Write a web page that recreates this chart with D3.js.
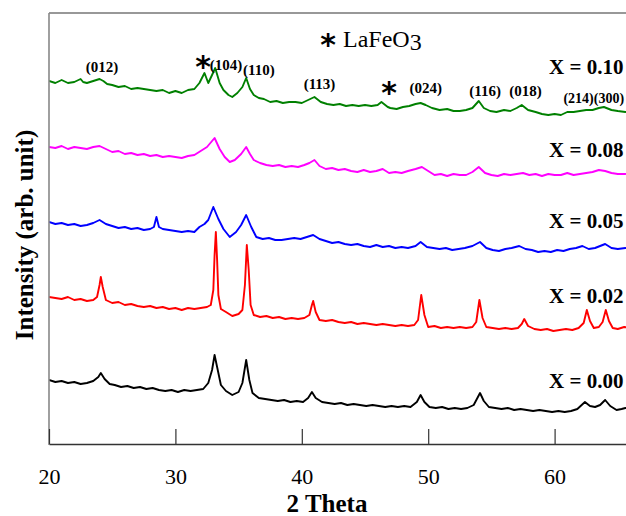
<!DOCTYPE html>
<html>
<head>
<meta charset="utf-8">
<script src="https://cdn.jsdelivr.net/npm/d3@7"></script>
<style>
  body { margin: 0; background: #fff; }
  svg { display: block; }
</style>
</head>
<body>
<div id="chart"></div>
<script>
// x-ray patterns, [2theta, intensity] (offsets already in)
var sampleLabels = ["X = 0.10", "X = 0.08", "X = 0.05", "X = 0.02", "X = 0.00"];
var sampleColors = ["#008000", "#ff00ff", "#0000ff", "#ff0000", "#000000"];

var x010 = [[20,364],[20.5,362],[21,365],[21.5,362],[22,363],[22.5,366],[22.7,363],[23,362],[23.5,364],[24,366],[24.3,364],[24.6,361],[25,360],[25.5,358],[26,359],[26.5,356],[27,357],[27.5,356],[28,355],[28.5,354],[29,355],[29.5,352],[30,354],[30.5,352],[31,355],[31.5,356],[31.9,362],[32.3,372],[32.6,362],[32.9,370],[33.15,377],[33.5,362],[33.8,355],[34.2,350],[34.5,348],[34.9,352],[35.3,358],[35.6,367],[35.9,356],[36.2,350],[36.6,347],[37,346],[37.5,343],[38,344],[38.5,342],[39,343],[39.5,343],[40,342],[40.5,345],[41,348],[41.5,343],[42,341],[42.5,340],[43,341],[43.5,339],[44,340],[44.5,339],[45,340],[45.5,339],[46,340],[46.3,343],[46.8,338],[47,337],[47.5,336],[48,338],[48.5,339],[49,341],[49.4,342],[49.8,340],[50.3,337],[50.9,335],[51.5,336],[52,334],[52.5,334],[53,335],[53.5,337],[54,344],[54.4,337],[54.9,334],[55.4,333],[56,335],[56.5,334],[57,337],[57.4,340],[57.9,335],[58.5,333],[59,331],[59.5,330],[60,331],[60.5,330],[61,333],[61.5,333],[62,334],[62.5,335],[63,335],[63.5,337],[63.9,338],[64.5,335],[65,334],[65.6,333],[66,334]];

var x008 = [[20,298],[20.5,297],[21,299],[21.5,296],[22,298],[22.5,297],[23,296],[23.5,298],[24,299],[24.5,296],[25,293],[25.5,294],[26,291],[26.5,292],[27,290],[27.5,291],[28,289],[28.5,290],[29,288],[29.5,289],[30,288],[30.5,287],[31,289],[31.5,290],[32,294],[32.5,298],[33.1,307],[33.5,296],[33.9,288],[34.3,283],[34.7,285],[35.2,291],[35.6,298],[35.9,291],[36.2,285],[36.7,282],[37.2,280],[37.7,279],[38.2,280],[38.7,278],[39.2,279],[39.7,278],[40.2,280],[40.6,282],[41,285],[41.4,279],[41.9,276],[42.4,277],[42.9,275],[43.4,276],[43.9,274],[44.4,273],[44.9,275],[45.4,273],[45.9,274],[46.4,276],[46.9,272],[47.4,273],[47.9,272],[48.4,274],[49,276],[49.5,278],[50,274],[50.5,270],[51,271],[51.5,269],[52,271],[52.5,270],[53,270],[53.5,273],[54,278],[54.5,272],[55,270],[55.5,269],[56,271],[56.5,270],[57,271],[57.5,272],[58,270],[58.5,271],[59,269],[59.5,271],[60,270],[60.5,270],[61,272],[61.5,270],[62,271],[62.5,272],[63,273],[63.5,275],[64,274],[64.5,272],[65,271],[65.6,271],[66,272]];

var x005 = [[20,223],[20.5,221],[21,222],[21.5,220],[22,221],[22.5,219],[23,220],[23.5,222],[24,225],[24.5,221],[25,219],[25.5,217],[26,218],[26.5,216],[27,217],[27.5,215],[28,216],[28.3,218],[28.5,228],[28.7,218],[29,216],[29.5,215],[30,214],[30.5,213],[31,214],[31.5,213],[31.9,218],[32.3,221],[32.6,225],[33,238],[33.4,226],[33.8,216],[34.3,208],[34.8,213],[35.2,220],[35.6,230],[36,218],[36.4,208],[36.9,206],[37.4,207],[37.9,205],[38.4,205],[38.9,206],[39.4,207],[39.9,206],[40.4,208],[40.9,210],[41.4,206],[41.9,204],[42.4,202],[42.9,203],[43.4,201],[43.9,200],[44.4,201],[44.9,199],[45.4,198],[45.9,200],[46.4,198],[46.9,199],[47.4,197],[47.9,198],[48.4,197],[49,199],[49.4,203],[49.9,198],[50.4,197],[50.9,196],[51.4,197],[51.9,195],[52.4,196],[52.9,197],[53.5,199],[54.1,203],[54.6,197],[55.1,195],[55.6,194],[56.1,196],[56.6,197],[57.2,199],[57.7,196],[58.2,195],[58.7,193],[59.2,194],[59.7,193],[60.2,195],[60.7,194],[61.2,196],[61.7,197],[62.2,199],[62.7,196],[63.2,197],[63.6,199],[64,201],[64.5,197],[65,196],[65.6,197],[66,196]];

var x002 = [[20,148],[20.5,147],[21,146],[21.5,148],[22,145],[22.5,146],[23,144],[23.5,145],[23.8,148],[24,160],[24.1,168],[24.25,158],[24.5,145],[25,142],[25.5,143],[26,140],[26.5,141],[27,139],[27.5,138],[28,139],[28.5,137],[29,138],[29.5,136],[30,137],[30.5,135],[31,137],[31.5,136],[32,137],[32.5,138],[32.8,140],[33,155],[33.1,190],[33.2,213],[33.3,185],[33.4,150],[33.6,136],[34,133],[34.5,129],[35,131],[35.3,135],[35.5,160],[35.65,200],[35.8,175],[35.95,140],[36.2,130],[36.7,128],[37.2,129],[37.7,127],[38.2,128],[38.7,126],[39.2,127],[39.7,126],[40.2,127],[40.6,130],[40.8,140],[40.9,144],[41.1,133],[41.4,125],[41.9,124],[42.4,125],[42.9,123],[43.4,122],[43.9,123],[44.4,121],[44.9,122],[45.4,121],[45.9,120],[46.4,121],[46.9,120],[47.4,119],[47.9,120],[48.4,119],[48.9,120],[49.2,125],[49.45,150],[49.7,130],[50,118],[50.5,119],[51,117],[51.5,118],[52,117],[52.5,118],[53,117],[53.5,118],[53.8,123],[54.05,145],[54.3,127],[54.6,118],[55.1,117],[55.6,116],[56.1,117],[56.6,116],[57.1,117],[57.4,121],[57.6,126],[57.9,119],[58.4,116],[58.9,115],[59.4,116],[59.9,114],[60.4,115],[60.9,116],[61.4,115],[61.9,117],[62.3,122],[62.55,135],[62.8,124],[63.1,117],[63.5,118],[63.8,123],[64.05,135],[64.3,124],[64.6,117],[65,116],[65.5,118],[66,117]];

var x000 = [[20,65],[20.5,63],[21,64],[21.5,62],[22,63],[22.5,61],[23,62],[23.5,64],[23.9,68],[24.1,72],[24.4,66],[24.8,61],[25.2,60],[25.7,58],[26.2,59],[26.7,57],[27.2,58],[27.7,56],[28.2,57],[28.7,55],[29.2,54],[29.7,55],[30.2,53],[30.7,55],[31.2,54],[31.7,55],[32.2,56],[32.6,62],[32.9,75],[33.1,90],[33.3,78],[33.6,60],[34,54],[34.5,50],[35,53],[35.3,62],[35.6,85],[35.85,65],[36.1,52],[36.6,47],[37.1,46],[37.6,45],[38.1,44],[38.6,45],[39.1,43],[39.6,44],[40.1,43],[40.5,47],[40.8,53],[41.1,47],[41.6,43],[42.1,42],[42.6,41],[43.1,42],[43.6,40],[44.1,41],[44.6,40],[45.1,39],[45.6,40],[46.1,39],[46.6,38],[47.1,39],[47.6,38],[48.1,39],[48.6,38],[49.1,43],[49.4,50],[49.7,43],[50.1,38],[50.6,37],[51.1,38],[51.6,36],[52.1,37],[52.6,36],[53.1,37],[53.6,40],[54.1,52],[54.4,44],[54.8,38],[55.3,37],[55.8,36],[56.3,37],[56.8,35],[57.3,36],[57.8,35],[58.3,34],[58.8,35],[59.3,34],[59.8,33],[60.3,34],[60.8,33],[61.3,34],[61.8,36],[62.4,43],[62.8,39],[63.2,38],[63.6,40],[64,45],[64.4,39],[64.9,35],[65.3,36],[65.6,37],[66,36]];

var patterns = [x010, x008, x005, x002, x000];

// hkl labels and LaFeO3 stars sit over the top pattern
var hklLabels = ["(012)", "(104)", "(110)", "(113)", "(024)", "(116)", "(018)", "(214)(300)"];
var hklTheta = [24.2, 34.0, 36.6, 41.4, 49.8, 54.5, 57.7, 65.5];
var hklLevel = [373, 375, 370, 356, 352, 349, 349, 342];
var starTheta = [32.2, 46.9];
var starLevel = [368, 342];
var xTicks = [20, 30, 40, 50, 60];

var width = 626,
    height = 516,
    margin = {top: 13, left: 49, bottom: 72};

var svg = d3.select("#chart").append("svg")
    .attr("width", width)
    .attr("height", height);

var xScale = d3.scaleLinear().domain([20, 66]).range([49, 49 + 46 * 12.64]);
var yScale = d3.scaleLinear().domain([0, 432]).range([445, 13]);

svg.append("clipPath").attr("id", "plotclip")
  .append("rect")
    .attr("x", margin.left).attr("y", margin.top)
    .attr("width", width - margin.left).attr("height", 445 - margin.top);

var line = d3.line()
    .x(function(d) { return xScale(d[0]); })
    .y(function(d) { return yScale(d[1]); });

svg.append("g").attr("clip-path", "url(#plotclip)")
  .selectAll("path")
  .data(patterns)
  .enter().append("path")
    .attr("d", line)
    .attr("fill", "none")
    .attr("stroke", function(d, i) { return sampleColors[i]; })
    .attr("stroke-width", 1.9)
    .attr("stroke-linejoin", "round");

// frame: top line, grey left axis, bottom axis with inward ticks
svg.append("line")
    .attr("x1", 49).attr("x2", width).attr("y1", 13).attr("y2", 13)
    .attr("stroke", "#333").attr("stroke-width", 1.2);
svg.append("line")
    .attr("x1", 49).attr("x2", 49).attr("y1", 13).attr("y2", 445)
    .attr("stroke", "#888").attr("stroke-width", 1.6);

var xAxis = svg.append("g")
    .attr("transform", "translate(0,444)")
    .call(d3.axisBottom(xScale).tickValues(xTicks).tickSizeInner(-15).tickSizeOuter(0).tickPadding(24));
xAxis.select(".domain").attr("stroke", "#333").attr("stroke-width", 1.6);
xAxis.selectAll(".tick line").attr("stroke", "#333").attr("stroke-width", 1.2);
xAxis.selectAll(".tick text")
    .attr("font-family", "'Liberation Serif', 'Times New Roman', serif")
    .attr("font-size", "22px")
    .attr("fill", "#000");

svg.append("text")
    .attr("x", 327).attr("y", 512)
    .attr("text-anchor", "middle")
    .attr("font-family", "'Liberation Serif', serif")
    .attr("font-weight", "bold")
    .attr("font-size", "25px")
    .text("2 Theta");

svg.append("text")
    .attr("transform", "translate(33,235) rotate(-90)")
    .attr("text-anchor", "middle")
    .attr("font-family", "'Liberation Serif', serif")
    .attr("font-weight", "bold")
    .attr("font-size", "25px")
    .text("Intensity (arb. unit)");

// sample names at the right end of each pattern
var nameY = [74, 157, 228, 303, 388];
svg.selectAll(".name")
  .data(sampleLabels)
  .enter().append("text")
    .attr("class", "name")
    .attr("x", 549)
    .attr("y", function(d, i) { return nameY[i]; })
    .attr("font-family", "'Liberation Serif', serif")
    .attr("font-weight", "bold")
    .attr("font-size", "21px")
    .text(function(d) { return d; });

// last label is pinned to its right end so it stays inside the page
svg.selectAll(".hkl")
  .data(hklLabels)
  .enter().append("text")
    .attr("class", "hkl")
    .attr("x", function(d, i) { return xScale(hklTheta[i]); })
    .attr("y", function(d, i) { return yScale(hklLevel[i]); })
    .attr("text-anchor", function(d, i) { return i == hklLabels.length - 1 ? "end" : "middle"; })
    .attr("font-family", "'Liberation Serif', serif")
    .attr("font-weight", "bold")
    .attr("font-size", function(d, i) { return i == hklLabels.length - 1 ? "14px" : "15px"; })
    .text(function(d) { return d; });

svg.selectAll(".star")
  .data(starTheta)
  .enter().append("text")
    .attr("class", "star")
    .attr("x", function(d) { return xScale(d); })
    .attr("y", function(d, i) { return yScale(starLevel[i]); })
    .attr("text-anchor", "middle")
    .attr("font-family", "'DejaVu Sans', sans-serif")
    .attr("font-weight", "bold")
    .attr("font-size", "30px")
    .text("*");

// legend for the star
svg.append("text")
    .attr("x", 328).attr("y", 55)
    .attr("text-anchor", "middle")
    .attr("font-family", "'DejaVu Sans', sans-serif")
    .attr("font-weight", "bold")
    .attr("font-size", "30px")
    .text("*");
var lf = svg.append("text")
    .attr("x", 343).attr("y", 47)
    .attr("font-family", "'Liberation Serif', serif")
    .attr("font-size", "24px");
lf.append("tspan").text("LaFeO");
lf.append("tspan").attr("dy", 3).text("3");
</script>
</body>
</html>
